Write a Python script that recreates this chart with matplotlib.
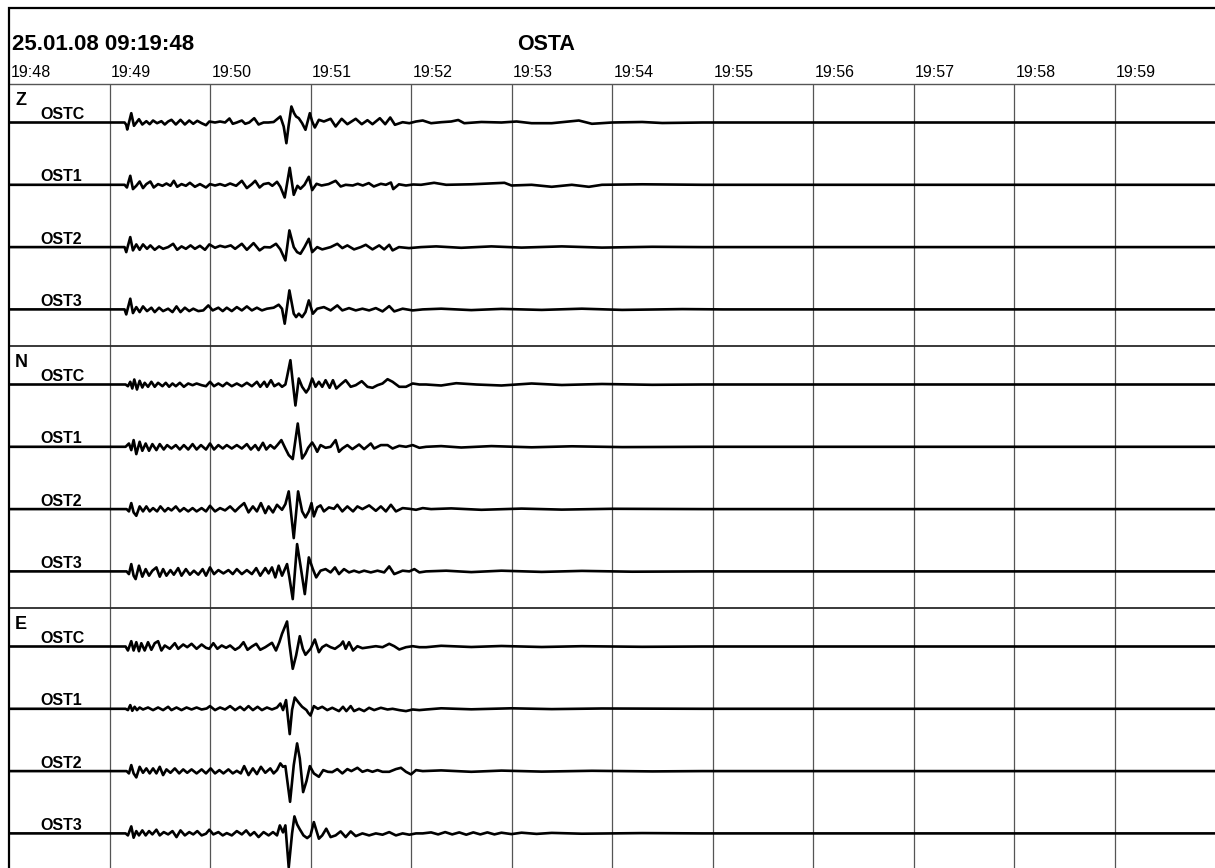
import numpy as np
import matplotlib.pyplot as plt
from matplotlib.patches import Rectangle

plt.rcParams['font.family'] = ['Liberation Sans', 'DejaVu Sans']

# header texts
date_label = "25.01.08 09:19:48"
station = "OSTA"
minute_labels = ["19:48", "19:49", "19:50", "19:51", "19:52", "19:53",
                 "19:54", "19:55", "19:56", "19:57", "19:58", "19:59"]
components = ["Z", "N", "E"]
channels = ["OSTC", "OST1", "OST2", "OST3"]

# traces: (seconds after 19:48:00, deflection)
Z_OSTC = [(0, 0), (69, 0), (70, -2.3), (70.6, -7), (73, 9.3), (74.6, -3.3), (77.6, 3.3), (79.6, -2), (82, 1.3),
          (84, -1.7), (86, 2), (88.4, -0.7), (91, 1.3), (93, -2), (95, 1), (97, 2.7), (99.6, -2), (102.4, 2.7),
          (105, -2), (107.6, 2), (110, -1.3), (112.4, 1.7), (115, -0.7), (117.6, -2.7), (119.6, 1), (123, 0),
          (126, 1), (129, 0), (131.6, 4), (133.6, -1.3), (136, 0), (139, 2), (141, -1.3), (143.4, 0), (146.4, 4.3),
          (149, -2), (152, 0), (154.8, 0), (158, 0.5), (162, 6), (164, -4), (165.6, -20.7), (167, -2.3),
          (168.6, 16), (170.2, 9.3), (171.4, 6), (173, 4.3), (175, -0.7), (177, -7.3), (179.6, 9.3), (181, 1),
          (182.6, -5), (185, 2.7), (188, 1), (192, 3.7), (195, -4), (198.6, 3.7), (202, -1.7), (207, 3.7),
          (210.6, -1.7), (214, 2.3), (217, -1.7), (221.4, 4.3), (224.6, -1.7), (227.6, 5), (230.4, -2.3),
          (235, 0.3), (239, -0.7), (243, 1), (247, 2), (252, -0.7), (258, 0.3), (264, 1), (268.2, 2.5),
          (271.8, -0.7), (282, 0.5), (294, 0), (303, 1), (312, -0.7), (324, -0.7), (340.2, 2), (348, -1.3),
          (360, 0), (378, 0.5), (390, -0.5), (414, 0), (720, 0)]
Z_OST1 = [(0, 0), (69, 0), (70.4, -2.7), (72.4, 9), (74, -4.3), (76, -1), (78, 3.3), (80, -3.3), (82, 0.7),
          (84.4, 3.3), (86.4, -2.7), (89, 0.7), (91.6, -1), (94, 1.3), (96.4, -1), (98.4, 4), (100.4, -2),
          (103, 0.7), (105.6, -1), (108, 2), (111, -2), (114, 0.7), (117.6, -2.7), (120, 0.7), (123, -0.7),
          (126, 0.7), (129, -1), (132, 1.3), (135.6, -1), (139, 4), (142, -3.3), (145, 0.7), (147, 4),
          (149.6, -2.7), (152, 0.7), (155, 1.7), (157.2, -1), (160, 3), (162, -2), (164.6, -12.7), (167.6, 17),
          (170, -10), (172.2, -1), (174, -4), (176.4, 0), (179, 8), (181, -5.3), (183.6, 1), (186.6, -0.7),
          (190.8, 0.7), (195, 4), (198, -1.7), (201, 0), (205.2, -0.7), (208.2, 1), (211.2, -0.7), (214.8, 1.7),
          (217.8, -1.7), (222, 1), (225, 0), (228, 2.3), (229.4, -4.3), (232.8, 0.5), (237, -0.7), (241.2, 0.3),
          (246, 0), (253.8, 2), (261, 0), (276, 0.5), (295.8, 2), (300, -0.7), (312, 0), (324, -2), (336, 0),
          (346.2, -2), (354, 0), (378, 0.5), (414, 0), (720, 0)]
Z_OST2 = [(0, 0), (69, 0), (70, -5), (72.4, 10), (74, -3.3), (76, 2.7), (78, -2.7), (80, 2.7), (82.4, -1.7),
          (84.4, 1.7), (87, -2.7), (89.6, 0.7), (92, -1.7), (95, 0), (98, 3.3), (100.4, -2.7), (103, 0.7),
          (105.6, -1.7), (108.4, 1.7), (111, -1.7), (114, 1.3), (117, -2.7), (119.6, 2.7), (123, -0.7), (126, 1.3),
          (129, 0), (132.4, 1.7), (135, -1.7), (139, 3.3), (142, -2.7), (146, 4), (149.6, -3.3), (152.4, 0),
          (156, -0.3), (159.4, 3.3), (162, -2.3), (165, -13.3), (167.4, 16.7), (170, 0), (172, -5), (174, -6.7),
          (176.4, 0), (179, 8.3), (181, -5), (184, 0), (187, -2.3), (192, 0), (196, 3.3), (199, -1), (202, 1.7),
          (206, -2.3), (210, 0), (213, 2.3), (217, -2.3), (221, 1.7), (224, -2.3), (227, 2.3), (229, -3.3),
          (232.8, 0), (238.8, -1), (246, 0), (255, 0.7), (270, -0.7), (288, 0.7), (306, -0.5), (330, 0.7),
          (354, -0.5), (384, 0.3), (414, 0), (720, 0)]
Z_OST3 = [(0, 0), (69, 0), (70, -5), (72.4, 10.7), (74, -3.7), (76, 2.3), (78, -2.7), (80, 3), (82.4, -1.7),
          (85, 1.7), (87, -2.7), (89.6, 1.7), (92, -1.7), (95, 0.7), (97.6, -2.7), (100, 3), (102.4, -2.7),
          (105, 1.7), (107.6, -1.7), (110, 0.7), (113, -1.7), (116, -1), (119, 4), (121.6, -1), (125, 1.7),
          (127.6, -1.7), (130, 1.7), (133, -1.7), (136, 2.3), (139, -1), (142, 3), (145, -1), (148, 1.7),
          (151, -1), (154, 0.7), (158, 1.7), (161, 4.7), (163, 0.7), (164.6, -14.3), (167.4, 19), (170, -4.3),
          (171.4, -7.7), (173, -4.3), (175, -7.7), (177, -2.7), (179, 9), (181.4, -4.3), (184, 0.7), (188, 2.3),
          (192, -1), (196, 4), (199, -1), (203, 1.3), (207, -1), (211, 0.7), (215, -1), (219, 1.3), (223, -2),
          (227, 3.3), (230, -2), (235, 0.7), (241, -1), (247, 0), (258, 0.7), (276, -0.7), (294, 0.5),
          (318, -0.5), (342, 0.7), (366, -0.5), (402, 0.3), (426, 0), (720, 0)]

N_OSTC = [(0, 0), (69.6, 0), (71, -1.7), (72.4, 2.7), (73.6, -4), (74.8, 5), (76.4, -5), (78, 3.7), (79.6, -3),
          (81, 1.7), (83, -2.3), (85, 2.7), (87, -2.3), (89, 1.7), (91.6, -1.7), (93.6, 1.7), (95.6, -2.3),
          (97.6, 1), (99.6, -1.7), (102, 1.7), (104.4, -2.3), (107, 1), (109.6, -0.7), (112, 1), (115, -0.7),
          (117.6, -1.7), (120, 2.7), (122.4, -1.7), (125, 1), (127.6, -1.7), (130, 1.7), (133, -1.7), (136, 1),
          (139, -1.7), (142, 1.7), (145, -1.7), (148, 2.7), (150, -2.3), (152.4, 2.7), (154, -2.3), (156.4, 4.3),
          (158.4, -1.7), (161, 1), (163, -2.3), (165, 0), (166, 7.7), (168, 24.3), (169.4, 2.7), (171, -21),
          (173, 6), (175, -2.3), (177.4, -8), (179, -4), (181, 6), (183, -2.3), (185, 2.7), (187, -2.3),
          (189, 4.3), (191.4, -3.3), (193.4, 4.3), (195.4, -4), (198, 0), (201, 4.3), (204, -2.3), (207, -0.7),
          (210.6, 3.3), (214, -2.3), (217, -3.3), (220, -0.7), (223, 1), (226, 5.3), (229, 2.7), (233, -2.3),
          (237, -2.3), (241, 1), (245, 0), (249, 0), (258, -1), (267, 1.3), (279, 0), (294, -1), (312, 1),
          (330, -0.5), (354, 0.5), (384, -0.3), (414, 0), (720, 0)]
N_OST1 = [(0, 0), (69.6, 0), (71.6, 3.3), (73, -3.3), (74.4, 6.7), (76, -7.3), (78, 5), (79.6, -4), (81.6, 3.3),
          (83.6, -4), (85.6, 2.7), (88, -3.3), (90, 2.7), (92.4, -2.7), (94.4, 1.7), (97, -1.7), (99.6, 1.7),
          (102, -2.7), (104.4, 1.7), (107, -2.7), (109.6, 2.7), (112, -2.7), (114.6, 1.7), (117.6, -2.7),
          (120, 3.3), (122.4, -2.7), (125, 1.7), (127.6, -1.7), (130, 1.7), (133, -1.7), (136, 1.7), (139, -1.7),
          (142, 2.7), (144.4, -2.7), (147, 1.7), (149, -3.3), (151.6, 4), (153.6, -2.7), (156, 1.7),
          (158.4, -1.7), (160.2, 1.7), (162.6, 6.7), (165, -1.7), (167, -8.3), (169.4, -12.3), (172.4, 23.3),
          (175, -11.7), (177, -6.7), (178.6, -1), (181, 4.3), (182.6, 0), (184, -5), (186, 1.7), (189, -1),
          (192, 0), (195, 6.7), (197, -5), (199, -1.7), (202, 1.7), (205, -2.3), (209, 2.3), (212, -2.3),
          (216, 3.3), (218, -1.7), (222, 1.7), (226, 1.7), (229, -1.7), (233, 1), (237, 0), (241, 1.7),
          (245, -1), (249, 0), (258, 0.7), (270, -0.7), (288, 0.7), (312, -0.5), (336, 0.5), (366, -0.3),
          (414, 0), (720, 0)]
N_OST2 = [(0, 0), (70.2, 0), (71.6, -2.3), (73, 6), (74.4, -3.3), (76, -6.7), (78, 2.7), (80, -2.3), (82, 2.7),
          (84, -2.3), (86, 1), (88.4, -2.3), (90.4, 2.7), (93, -2.3), (95, 1), (97, -1.3), (99.6, 2.7), (102, -2.3),
          (104.4, 1), (107, -2.3), (109.6, 1), (112, -2.3), (115, 1), (117.6, -2.3), (120, 3.3), (123, -2.3),
          (126, 1), (129, -1.3), (132, 2.7), (135, -2.3), (137.6, 2), (140.4, 6), (143, -3.3), (145.6, 2.7),
          (148, -2.3), (150.4, 6), (153, -4), (155, 2.7), (157.6, -3.3), (160, 4.3), (163, -0.7), (165, 5),
          (167, 17.7), (170, -29), (172.6, 17.7), (175, -2.3), (177, -8.3), (179, -2.3), (180.6, 6),
          (182, -7.3), (184, 1.7), (186, 3.7), (188, -2.3), (191, 1.7), (194, 0.3), (196, 4.3), (199, -2.3),
          (202, 2.7), (205.4, -2.3), (208, 2.7), (211, 0), (215, 3.7), (219, -1.7), (222, 2.7), (225, -2.3),
          (228, 4.3), (231, -2.3), (235, 1), (239, 0.3), (243, -0.7), (247, 1), (252, 0), (264, 0.7),
          (282, -0.7), (306, 0.5), (330, -0.5), (360, 0.3), (414, 0), (720, 0)]
N_OST3 = [(0, 0), (70.2, 0), (71.6, -2.7), (73, 7.3), (74.4, -4.3), (75.6, -7.7), (77.6, 5.7), (79.6, -5.3),
          (81.6, 2.3), (83.6, -4.3), (85.6, 0.7), (88, 4), (90, -5.3), (92, 2.3), (94, -4.3), (96.4, 1.3),
          (98.4, -3.3), (101, 3.3), (103, -4.3), (105.6, 2.3), (108, -3.3), (110.4, 0.7), (113, -3.3),
          (115.6, 2.3), (117.6, -4.3), (120, 4), (122.4, -2.7), (125, 1.3), (128, -2), (131, 1.3), (133.6, -2.7),
          (136, 2.3), (139, -2.7), (142, 1.3), (145, -2.7), (147.6, 3.3), (150, -4.3), (153, 3.3), (155, -2),
          (157, 4), (159, -6), (161, 5.7), (163, -4.3), (166, 7.3), (167.4, -6), (169.4, -27.7), (172, 27.3),
          (174, 6), (176.6, -22.7), (179, 14), (181.4, 2.3), (183.4, -6), (186, 0.7), (189, 2.3), (192, -1),
          (194.6, 4), (197, -2.7), (200, 2.3), (203, -1), (206, 0.7), (209, -1), (212, 0.7), (216, -1),
          (220, 0.7), (224, -1), (227, 5), (230, -2.7), (235, 0.7), (239, 0), (242, 2.3), (245, -1), (249, 0),
          (261, 0.7), (276, -0.7), (294, 0.7), (318, -0.5), (342, 0.5), (372, -0.3), (414, 0), (720, 0)]

E_OSTC = [(0, 0), (69.6, 0), (71, -4), (73, 5.3), (74.4, -4), (76, 4.3), (77.6, -4.7), (79, 3.3), (81, -4),
          (83, 4.3), (85, -3.3), (87, 3.3), (89, 5.3), (91, -4), (93, 1), (96, -2.3), (99, 3.3), (101, -2.3),
          (104, 2), (106.4, -0.7), (109, 2.7), (112, -2.3), (115, 2), (117.6, -1.3), (119.6, -2.3), (122, 3.3),
          (124.4, -2.3), (127, 1), (129.6, -1.3), (132, 1), (135, -3.3), (137.6, -0.7), (140, 4.3),
          (142.4, -3.3), (145, 0), (147.6, 2.7), (150, -3.3), (153, -0.7), (157, 3.7), (159.4, -4),
          (161.4, 4.3), (163, 12.7), (166, 25), (167.4, 2.7), (169.4, -22.3), (171.4, -9), (173.6, 10.3),
          (175.4, -2.3), (177, -8.3), (180, -2.3), (182.6, 7), (185, -5.7), (187, -0.7), (189.4, 1.7),
          (192, -0.7), (194.6, -2.3), (198, 1.7), (199.4, 5), (201, -2.3), (203, 4.3), (205.4, -4), (208, 0.3),
          (211, -1.7), (215, -0.7), (219, 0.3), (223, -0.7), (227, 2.7), (230, 0.3), (233, -3), (237, -0.7),
          (241, 0.3), (245, -0.7), (249, -0.7), (258, 0.7), (276, -0.5), (294, 0.5), (318, -0.5), (342, 0.3),
          (378, -0.3), (414, 0), (720, 0)]
E_OST1 = [(0, 0), (69.6, 0), (71, -1.3), (72.4, 3.7), (73.6, -2), (75, 2), (76.4, -1.3), (78, 1.3), (80, -0.7),
          (83, 1.3), (86, -1.3), (89, 1.3), (92, -1.3), (95, 2), (97, -1.3), (100, 1.3), (103, -1.3), (106, 1.3),
          (109, -0.7), (112, 1.3), (115, -0.7), (118, 0.3), (120, 2.7), (123, -1.3), (126, 1.3), (129, -0.7),
          (132, 2.7), (135, -1.3), (138, 2), (140.4, -1.3), (143, 2.7), (145.6, -1.3), (148.4, 2), (151, -1.3),
          (154, 1.3), (157, -0.7), (160, 1.3), (162, 5.3), (163.6, -1.3), (165.4, 8.7), (167.6, -25.3),
          (169, -1), (170.6, 11.3), (173, 6), (175, 2), (177.6, -1.3), (178.6, -4), (180, -6.7), (182, 2.7),
          (184.4, 0), (187, 2), (190, -1.3), (193, 1), (197, -2.3), (199.4, 2), (201.4, -2.3), (204, 2.7),
          (206, -2.3), (209, 0), (212, -2.3), (215, 1), (218, -1.3), (222, 1), (226, -0.7), (229, 0),
          (233, -1.3), (237, -2.3), (241, -0.7), (245, -1.3), (249, -0.7), (258, 0.5), (276, -0.5), (300, 0.5),
          (324, -0.3), (354, 0.3), (414, 0), (720, 0)]
E_OST2 = [(0, 0), (70.2, 0), (71.6, -2.3), (73, 6), (74.4, -2.3), (76, -6.3), (78, 4.3), (80, -1.7), (82, 2.7),
          (84, -2.3), (86, 2.7), (88, -2.3), (90, 4.3), (92, -4), (94, 1.7), (96.4, -1.7), (99, 2.7),
          (101.6, -2.3), (104, 1.7), (106.4, -1.7), (109, 1.7), (112, -2.3), (115, 1.7), (117.6, -2.3),
          (120.4, 2.7), (123, -2.3), (125.6, 1), (128, -2.3), (131, 1.7), (133.6, -2.3), (136, 0.3),
          (138.4, -2.3), (140.4, 5), (143, -4), (145.6, 2.7), (148, -3), (150.4, 4.3), (153, -1.7), (156, 2.7),
          (158, -2.3), (160, 1), (162, 7.7), (163.6, 4.3), (165, 5), (167.8, -30.7), (170, 6), (172, 27.7),
          (173.6, 12.7), (175.6, -21), (177.6, -10), (179.6, 5), (182, -2.3), (185, -5.7), (187.6, 1),
          (190.4, -0.7), (193, -1), (196, 2), (199, -2.3), (202, 2), (204.4, 0), (208, 3.3), (211, -0.7),
          (214, 1), (217, -0.7), (220, 1), (223, -0.7), (227, -0.7), (231, 2), (234, 3.3), (237, -0.7),
          (240, -3.3), (243, 1), (247, 0), (258, 0.7), (276, -0.7), (294, 0.5), (318, -0.5), (348, 0.3),
          (384, -0.3), (414, 0), (720, 0)]
E_OST3 = [(0, 0), (69.6, 0), (71, -2), (73, 7), (74.4, -4.3), (76, 2.3), (77.6, -2), (79.6, 3), (81.6, -2),
          (83.6, 2.3), (85.6, -1), (88, 3.7), (90, -2), (92.4, 1.3), (95, -1), (97.6, 2.3), (100, -3.7),
          (102.4, 3), (105, -2), (107.6, 1.3), (110, -1), (112.4, 2.3), (115, -2), (117.6, -0.3), (119.6, 3.7),
          (122, -1), (125, 1.3), (127.6, -2), (130, 0.3), (133, -2), (136, 2.3), (139, -1), (141.6, 3), (144, -2),
          (146.4, 1.3), (149, -3.7), (152, 1.3), (155, -2), (157.6, 1.3), (160, -2), (161.7, 8), (163.6, 1),
          (165, 8), (167, -34), (169, 0), (170.4, 17), (172, 9), (173.4, 4.7), (175.8, -2), (178, -4.7),
          (180, -2), (182, 11.3), (185, -5.3), (187, -2), (189.4, 4.7), (192, -3.7), (195, -2), (198, 2),
          (201, -3.7), (204, 2), (207, -2.7), (211, 0), (215, -2), (219, 0), (223, -1.3), (227, 1.3), (231, -2),
          (235, 0), (239, -1.3), (243, 0), (247, 0), (252, 1), (256.2, -1), (260.4, 1.3), (264.6, -1),
          (268.8, 1), (273, -1.3), (277.2, 1), (281.4, -1), (285.6, 1), (289.8, -1), (294, 0.7), (300, -0.7),
          (306, 0.7), (315, -0.5), (324, 0.5), (342, -0.3), (378, 0.3), (414, 0), (720, 0)]

traces = [[Z_OSTC, Z_OST1, Z_OST2, Z_OST3],
          [N_OSTC, N_OST1, N_OST2, N_OST3],
          [E_OSTC, E_OST1, E_OST2, E_OST3]]

W, H = 1215, 868
fig = plt.figure(figsize=(W / 100, H / 100), dpi=100)

# plotting area: 19:48 .. 20:00, y counted in pixels from the top rule downwards
ax = fig.add_axes([9 / W, 0, 1206 / W, 784 / H])
ax.set_xlim(0, 720)
ax.set_ylim(784, 0)
ax.axis('off')

group_h = 262
first_off = 38.5
trace_gap = 62.3

# minute grid and labels
for m, lab in enumerate(minute_labels):
    if m > 0:
        ax.axvline(m * 60, color='#555555', lw=0.9, zorder=1)
    ax.text(m * 60 + 0.8, -7, lab, fontsize=11.5, ha='left', va='baseline', clip_on=False)

ax.axhline(0, color='#555555', lw=1.0, clip_on=False, zorder=1)
for g in range(1, 3):
    ax.axhline(g * group_h, color='#2a2a2a', lw=1.3, zorder=1)

# seismogram traces
for g, comp in enumerate(components):
    top = g * group_h
    ax.text(3.6, top + 21, comp, fontsize=13, weight='bold', ha='left', va='baseline')
    for k, name in enumerate(channels):
        base = top + first_off + k * trace_gap
        t, a = np.array(traces[g][k]).T
        ax.plot(t, base - a, color='black', lw=1.9, solid_joinstyle='round',
                solid_capstyle='round', zorder=3)
        ax.text(18.5, base - 3.5, name, fontsize=11.5, weight='bold', ha='left', va='baseline', zorder=4)

# header
fig.text(12 / W, 1 - 50 / H, date_label, fontsize=16, weight='bold', ha='left', va='baseline')
fig.text(546 / W, 1 - 50 / H, station, fontsize=15.5, weight='bold', ha='center', va='baseline')

# page frame (left and top edges)
fig.patches.append(Rectangle((8.5 / W, -0.05), 1.2, 1.05 - 8.5 / H, transform=fig.transFigure,
                             fill=False, edgecolor='black', lw=1.6))

fig.savefig('out.png', dpi=100)
